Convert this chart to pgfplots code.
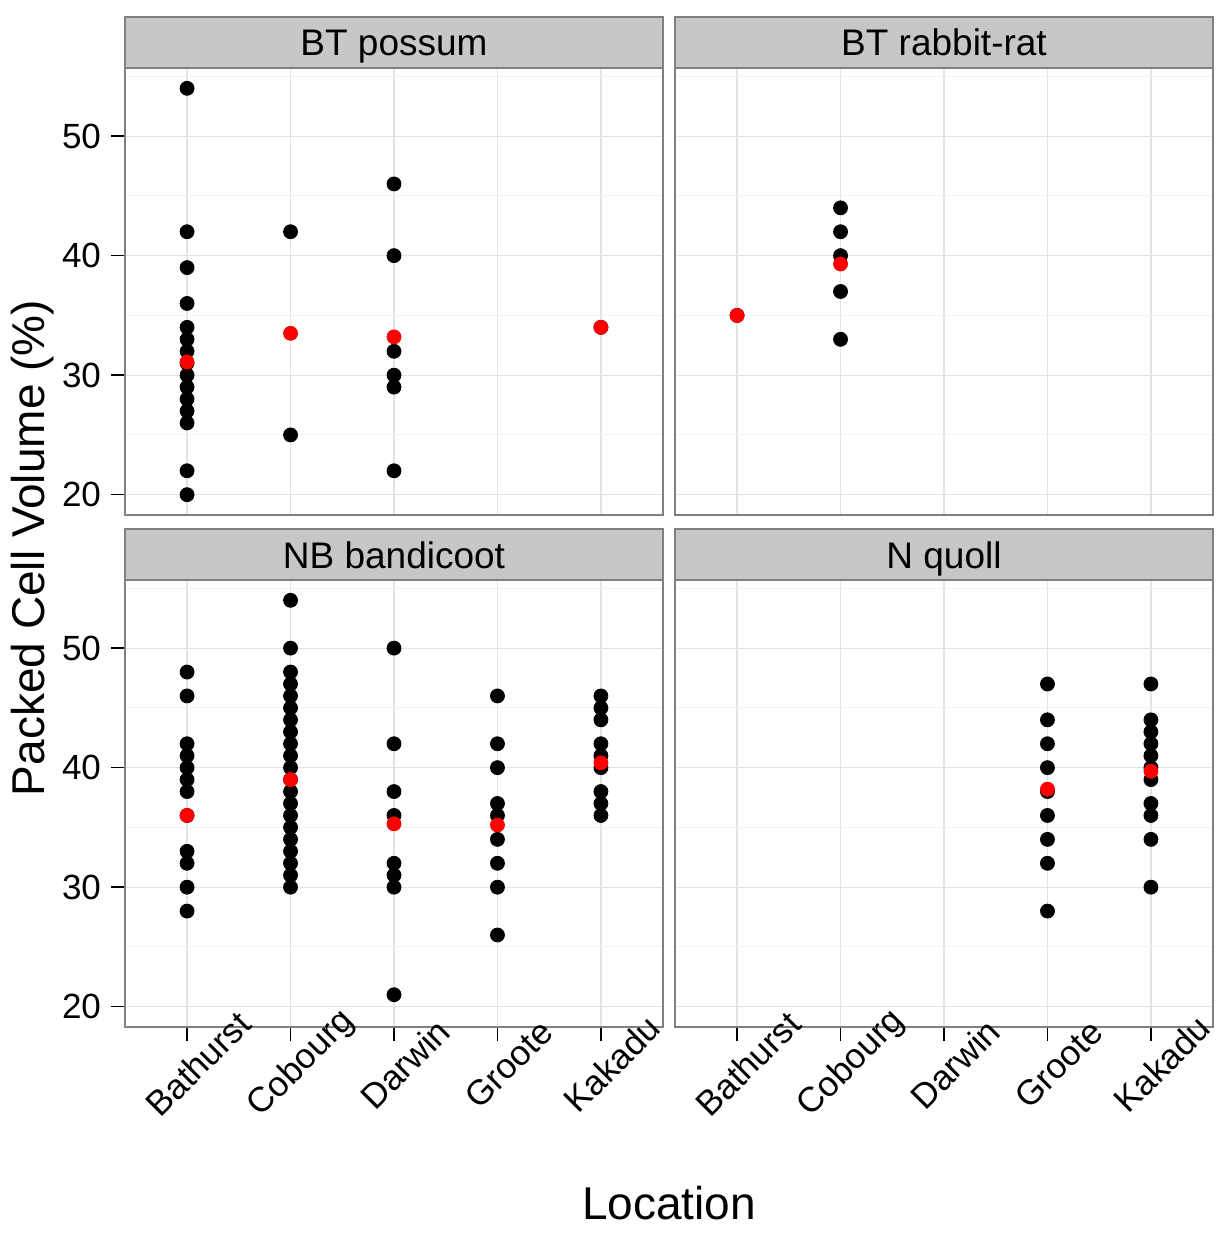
\documentclass[border=0pt]{standalone}
\usepackage{fontspec}
\setmainfont{Liberation Sans}
\usepackage{pgfplots}
\pgfplotsset{compat=1.18}
\definecolor{ggred}{HTML}{FF0000}
\pgfplotsset{
  facet/.style={
    scale only axis, width=269pt, height=223.5pt, anchor=south west,
    xmin=0.4, xmax=5.6, ymin=18.3, ymax=55.7,
    xtick={1,2,3,4,5}, ytick={20,30,40,50}, minor ytick={25,35,45,55},
    grid=both, major grid style={black!11, line width=0.6pt}, minor grid style={black!5, line width=0.5pt},
    axis line style={black!50, line width=0.8pt},
    tick style={black, line width=0.8pt}, tick align=outside,
    major tick length=7pt, minor tick length=0pt, yminorticks=false,
    xtick pos=bottom, ytick pos=left,
    /pgf/number format/assume math mode=true,
    yticklabel style={font=\fontsize{17.5}{19}\selectfont, black, xshift=-1.5pt},
    xticklabel style={font=\fontsize{17.5}{19}\selectfont, black, xshift=5.5pt, yshift=-11.5pt, rotate=45, anchor=center},
    xticklabels={Bathurst,Cobourg,Darwin,Groote,Kakadu},
    clip=false,
  },
  blk/.style={only marks, mark=*, mark size=3.5pt, black, mark options={draw=black, fill=black}},
  rd/.style={only marks, mark=*, mark size=3.5pt, ggred, mark options={draw=ggred, fill=ggred}},
}
\newcommand{\strip}[1]{%
  \draw[black!50, line width=0.9pt, fill=black!22] (rel axis cs:0,1) rectangle ([yshift=25.5pt]rel axis cs:1,1);
  \node[font=\fontsize{18.5}{20}\selectfont, anchor=base, inner sep=0pt] at ([yshift=6pt]rel axis cs:0.5,1) {#1};
}
\begin{document}
\begin{tikzpicture}
\path[use as bounding box] (0,0) rectangle (611.5pt,-618pt);
% top-left
\begin{axis}[facet, at={(62.5pt,-257.5pt)}, xmajorticks=false, xticklabels={}]
\addplot[blk] coordinates {(1,54)(1,42)(1,39)(1,36)(1,34)(1,33)(1,32)(1,31)(1,30)(1,29)(1,28)(1,27)(1,26)(1,22)(1,20)
 (2,42)(2,25) (3,46)(3,40)(3,32)(3,30)(3,29)(3,22) (5,34)};
\addplot[rd] coordinates {(1,31.1)(2,33.5)(3,33.2)(5,34)};
\strip{BT possum}
\end{axis}
% top-right
\begin{axis}[facet, at={(337.5pt,-257.5pt)}, xmajorticks=false, xticklabels={}, ymajorticks=false, yticklabels={}]
\addplot[blk] coordinates {(1,35)(2,44)(2,42)(2,40)(2,37)(2,33)};
\addplot[rd] coordinates {(1,35)(2,39.3)};
\strip{BT rabbit-rat}
\end{axis}
% bottom-left
\begin{axis}[facet, at={(62.5pt,-513.5pt)}]
\addplot[blk] coordinates {(1,48)(1,46)(1,42)(1,41)(1,40)(1,39)(1,38)(1,36)(1,33)(1,32)(1,30)(1,28)
 (2,54)(2,50)(2,48)(2,47)(2,46)(2,45)(2,44)(2,43)(2,42)(2,41)(2,40)(2,39)(2,38)(2,37)(2,36)(2,35)(2,34)(2,33)(2,32)(2,31)(2,30)
 (3,50)(3,42)(3,38)(3,36)(3,32)(3,31)(3,30)(3,21)
 (4,46)(4,42)(4,40)(4,37)(4,36)(4,34)(4,32)(4,30)(4,26)
 (5,46)(5,45)(5,44)(5,42)(5,41)(5,40)(5,38)(5,37)(5,36)};
\addplot[rd] coordinates {(1,36)(2,39)(3,35.3)(4,35.2)(5,40.4)};
\strip{NB bandicoot}
\end{axis}
% bottom-right
\begin{axis}[facet, at={(337.5pt,-513.5pt)}, ymajorticks=false, yticklabels={}]
\addplot[blk] coordinates {(4,47)(4,44)(4,42)(4,40)(4,38)(4,36)(4,34)(4,32)(4,28)
 (5,47)(5,44)(5,43)(5,42)(5,41)(5,40)(5,39)(5,37)(5,36)(5,34)(5,30)};
\addplot[rd] coordinates {(4,38.2)(5,39.7)};
\strip{N quoll}
\end{axis}
\node[rotate=90, font=\fontsize{23}{25}\selectfont] at (16.5pt,-274pt) {Packed Cell Volume (\%)};
\node[font=\fontsize{23}{25}\selectfont] at (334.5pt,-601.5pt) {Location};
\end{tikzpicture}
\end{document}
